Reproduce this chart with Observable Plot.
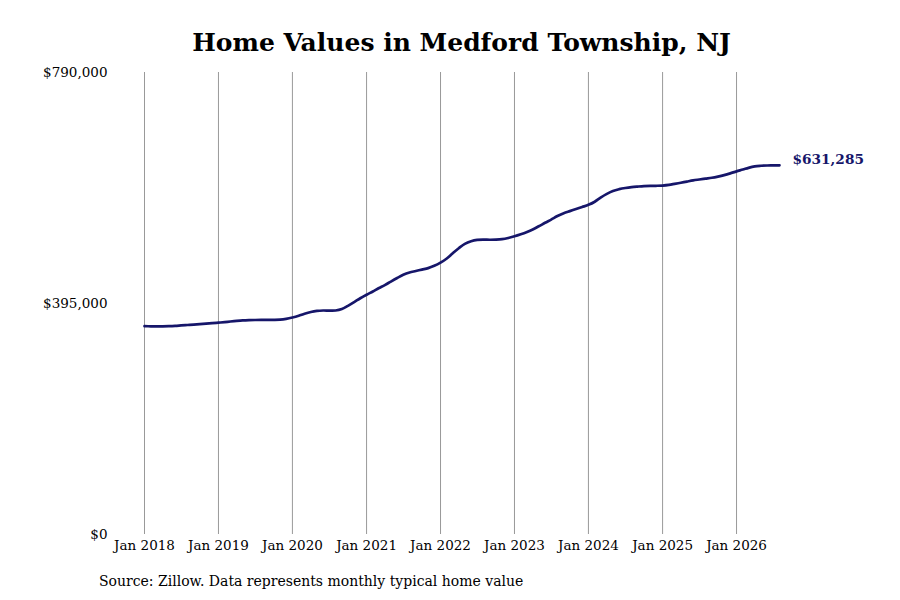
<!DOCTYPE html>
<html>
<head>
<meta charset="utf-8">
<script src="https://cdn.jsdelivr.net/npm/d3@7"></script>
<script src="https://cdn.jsdelivr.net/npm/@observablehq/plot@0.6"></script>
<style>
  html, body { margin: 0; padding: 0; background: #fff; }
  #wrap { position: relative; width: 900px; height: 600px; overflow: hidden; font-family: "DejaVu Serif", serif; }
  #title { position: absolute; left: 144px; width: 635px; top: 28px; text-align: center; font-size: 25px; line-height: 30px; font-weight: bold; color: #000; white-space: nowrap; }
  #chart { position: absolute; left: 0; top: 62px; }
  #caption { position: absolute; left: 99px; top: 573px; font-size: 14px; color: #000; white-space: nowrap; }
</style>
</head>
<body>
<div id="wrap">
  <div id="title">Home Values in Medford Township, NJ</div>
  <div id="chart"></div>
  <div id="caption">Source: Zillow. Data represents monthly typical home value</div>
</div>
<script>
// Monthly typical home value, starting Jan 2018
const startMonth = "2018-01-01";
const values2018 = [356200, 356000, 355900, 356000, 356300, 356800, 357500, 358200, 359000, 359800, 360600, 361400];
const values2019 = [362200, 363200, 364200, 365200, 366000, 366500, 366800, 366900, 366900, 367000, 367400, 368700];
const values2020 = [371000, 374000, 377500, 380500, 382300, 383000, 382800, 383000, 385500, 391000, 397500, 404000];
const values2021 = [410000, 415500, 421000, 426500, 432500, 438500, 444000, 448000, 450500, 453000, 455500, 459500];
const values2022 = [465000, 472000, 480500, 489500, 497000, 501500, 503800, 504300, 504000, 504200, 505000, 507000];
const values2023 = [510000, 513500, 517000, 521500, 527000, 533000, 538500, 544500, 549500, 553000, 556500, 560000];
const values2024 = [563700, 569000, 576000, 582500, 587500, 590500, 592500, 594000, 595000, 595800, 596200, 596300];
const values2025 = [596700, 597800, 599500, 601500, 603500, 605500, 607000, 608500, 610000, 612000, 614500, 617500];
const values2026 = [621000, 624000, 627000, 629500, 630500, 631000, 631100, 631285];

const yTicks = [0, 395000, 790000];
const yearTicks = ["2018", "2019", "2020", "2021", "2022", "2023", "2024", "2025", "2026"];

const allValues = [].concat(values2018, values2019, values2020, values2021, values2022, values2023, values2024, values2025, values2026);
const start = new Date(startMonth + "T00:00:00Z");
const data = allValues.map((v, i) => ({ date: d3.utcMonth.offset(start, i), value: v }));
const last = data[data.length - 1];
const gridDates = yearTicks.map(y => new Date(y + "-01-01T00:00:00Z"));

const lineColor = "#16166a";
const money = d => "$" + d3.format(",")(d);

const chart = Plot.plot({
  width: 900,
  height: 500,
  marginTop: 10,
  marginBottom: 28,
  marginLeft: 144,
  marginRight: 121,
  style: { fontFamily: "DejaVu Serif, serif", fontSize: "13.5px", color: "#000", background: "#fff" },
  x: { type: "utc", domain: [start, last.date], label: null },
  y: { domain: [0, 790000], label: null },
  marks: [
    Plot.ruleX(gridDates, { stroke: "#999", strokeWidth: 1, y1: 0, y2: 790000 }),
    Plot.axisX({ ticks: gridDates, tickFormat: d3.utcFormat("Jan %Y"), tickSize: 0, tickPadding: 6, fontSize: 13.5 }),
    Plot.axisY({ ticks: yTicks, tickFormat: money, tickSize: 0, tickPadding: 37, fontSize: 13.5 }),
    Plot.line(data, { x: "date", y: "value", stroke: lineColor, strokeWidth: 2.7, curve: "catmull-rom" }),
    Plot.text([last], { x: "date", y: "value", text: d => money(d.value), dx: 13, dy: -6, textAnchor: "start", fill: lineColor, fontWeight: "bold", fontSize: 13.7 })
  ]
});
document.getElementById("chart").appendChild(chart);
</script>
</body>
</html>
